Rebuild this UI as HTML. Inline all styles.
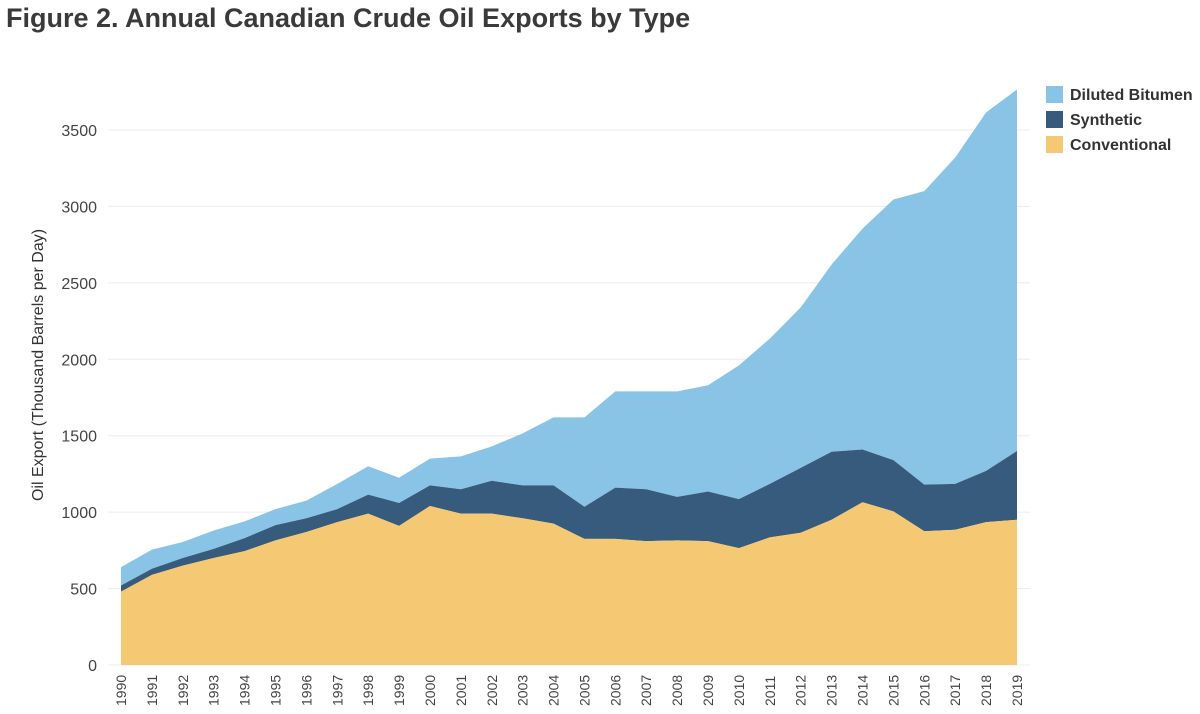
<!DOCTYPE html>
<html><head><meta charset="utf-8"><style>
body{margin:0;background:#fff;font-family:"Liberation Sans",sans-serif;}
#t{position:absolute;left:6px;top:3px;font-size:27px;font-weight:bold;color:#3a3a3a;}
</style></head><body>
<div id="t">Figure 2. Annual Canadian Crude Oil Exports by Type</div>
<svg id="c" width="1200" height="714" style="position:absolute;left:0;top:0"></svg>
<script>
const years=[1990,1991,1992,1993,1994,1995,1996,1997,1998,1999,2000,2001,2002,2003,2004,2005,2006,2007,2008,2009,2010,2011,2012,2013,2014,2015,2016,2017,2018,2019];
const conventional=[480,590,650,700,745,815,870,935,990,910,1040,990,990,960,925,825,825,810,815,810,765,835,865,950,1065,1005,875,885,935,950];
const synthetic=[40,40,50,60,85,100,90,85,125,150,135,160,215,215,250,210,335,340,285,325,320,350,425,445,345,335,305,300,335,450];
const bitumen=[120,125,105,120,110,105,115,165,185,165,175,215,225,340,445,585,630,640,690,695,875,950,1050,1225,1445,1705,1920,2135,2345,2365];
const yTicks=[0,500,1000,1500,2000,2500,3000,3500];
const NS="http://www.w3.org/2000/svg",svg=document.getElementById('c');
const x0=121,x1=1017,yb=665,ky=535/3500;
const X=i=>x0+(x1-x0)*i/(years.length-1), Y=v=>yb-v*ky;
function mk(t,a){const e=document.createElementNS(NS,t);for(const k in a)e.setAttribute(k,a[k]);svg.appendChild(e);return e;}
yTicks.forEach(v=>{
 const g=mk('line',{x1:108,x2:1030,y1:Y(v),y2:Y(v),stroke:'#ececec'});
 
 
 const t=mk('text',{x:97,y:Y(v)+6,'text-anchor':'end','font-size':'16','fill':'#444'});t.textContent=v;
 
 
});
const c1=conventional, c2=conventional.map((v,i)=>v+synthetic[i]), c3=c2.map((v,i)=>v+bitumen[i]);
function area(top,bot,fill,name){
 let d='M'+years.map((_,i)=>X(i)+','+Y(top[i])).join('L');
 for(let i=years.length-1;i>=0;i--)d+='L'+X(i)+','+Y(bot[i]);
 const p=mk('path',{d:d+'Z',fill:fill});
 
 
}
area(c3,c2,'#89c4e6','area-diluted-bitumen');
area(c2,c1,'#365b7c','area-synthetic');
area(c1,years.map(()=>0),'#f5c874','area-conventional');
years.forEach((yr,i)=>{
 const t=mk('text',{transform:`translate(${X(i)+5},706) rotate(-90)`,'font-size':'14','fill':'#444'});t.textContent=yr;
 
 
});
const yl=mk('text',{transform:'translate(43,365) rotate(-90)','text-anchor':'middle','font-size':'16','fill':'#333'});
yl.textContent='Oil Export (Thousand Barrels per Day)';


[['Diluted Bitumen','#89c4e6'],['Synthetic','#365b7c'],['Conventional','#f5c874']].forEach((l,i)=>{
 const y=86+i*25;
 const r=mk('rect',{x:1046,y:y,width:17,height:17,fill:l[1]});
 
 
 const t=mk('text',{x:1070,y:y+14,'font-size':'16','font-weight':'bold','fill':'#333'});t.textContent=l[0];
 
 
});
</script></body></html>
